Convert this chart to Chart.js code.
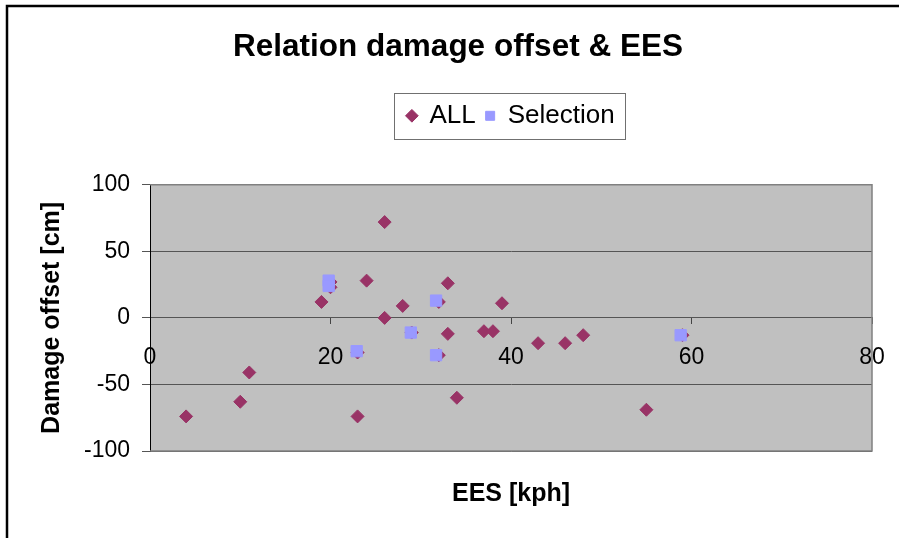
<!DOCTYPE html>
<html>
<head>
<meta charset="utf-8">
<title>Relation damage offset &amp; EES</title>
<script src="https://cdn.jsdelivr.net/npm/chart.js@4.4.0/dist/chart.umd.min.js"></script>
<style>
  html, body { margin: 0; padding: 0; background: #fff; }
  #wrap { width: 899px; height: 538px; }
</style>
</head>
<body>
<div id="wrap"><canvas id="damage-chart" width="899" height="538"></canvas></div>
<script>
// EES [kph] vs damage offset [cm], all cases
var allEes    = [4, 10, 11, 19, 20, 20, 23, 23, 24, 26, 26, 28, 29, 32, 32, 33, 33, 34, 37, 38, 39, 43, 46, 48, 55, 59];
var allOffset = [-74, -63, -41, 12, 27, 23, -26, -74, 28, 72, 0, 9, -11, 12, -28, 26, -12, -60, -10, -10, 11, -19, -19, -13, -69, -13];

// the selected subset
var selEes    = [19.8, 19.8, 22.9, 28.9, 31.7, 31.7, 58.8];
var selOffset = [28, 24, -25, -11, 13, -28, -13];

var xTicks = [0, 20, 40, 60, 80];
var yTicks = [-100, -50, 0, 50, 100];

var FONT = "'Liberation Sans', Arial, sans-serif";

function toPoints(xs, ys) {
    return xs.map(function (x, i) {
        return { x: x, y: ys[i] };
    });
}

// outer frame, grey plot area and the box round the legend
var chartDecor = {
    id: 'chartDecor',
    beforeDraw: function (chart) {
        var ctx = chart.ctx;
        var a = chart.chartArea;
        ctx.save();
        ctx.fillStyle = '#c0c0c0';
        ctx.fillRect(a.left, a.top, a.right - a.left, a.bottom - a.top);
        ctx.strokeStyle = '#000';
        ctx.lineWidth = 2.5;
        ctx.beginPath();
        ctx.moveTo(7, chart.height + 5);
        ctx.lineTo(7, 6);
        ctx.lineTo(chart.width + 5, 6);
        ctx.stroke();
        ctx.restore();
    },
    beforeDatasetsDraw: function (chart) {
        var ctx = chart.ctx;
        var a = chart.chartArea;
        ctx.save();
        ctx.strokeStyle = '#808080';
        ctx.lineWidth = 1.5;
        ctx.beginPath();
        ctx.moveTo(a.left, a.top);
        ctx.lineTo(a.right, a.top);
        ctx.lineTo(a.right, a.bottom);
        ctx.lineTo(a.left, a.bottom);
        ctx.stroke();
        ctx.restore();
    },
    afterDraw: function (chart) {
        var boxes = chart.legend && chart.legend.legendHitBoxes;
        if (!boxes || !boxes.length) return;
        var left = Math.min.apply(null, boxes.map(function (b) { return b.left; }));
        var right = Math.max.apply(null, boxes.map(function (b) { return b.left + b.width; }));
        var mid = boxes[0].top + boxes[0].height / 2;
        var ctx = chart.ctx;
        ctx.save();
        ctx.strokeStyle = '#707070';
        ctx.lineWidth = 1;
        ctx.strokeRect(Math.round(left - 13) + 0.5, Math.round(mid - 23) + 0.5, Math.round(right - left + 24), 46);
        ctx.restore();
    }
};

new Chart(document.getElementById('damage-chart'), {
    type: 'scatter',
    data: {
        datasets: [
            {
                label: 'ALL',
                data: toPoints(allEes, allOffset),
                pointStyle: 'rectRot',
                pointRadius: 6.5,
                backgroundColor: '#993366',
                borderColor: '#993366',
                borderWidth: 1,
                order: 1,
            },
            {
                label: 'Selection',
                data: toPoints(selEes, selOffset),
                pointStyle: 'rect',
                pointRadius: 8,
                backgroundColor: '#9999ff',
                borderColor: '#9999ff',
                borderWidth: 1,
                order: 0,
            },
        ],
    },
    options: {
        responsive: false,
        animation: false,
        devicePixelRatio: 1,
        layout: {
            padding: { left: 44, right: 27, top: 0, bottom: 0 },
        },
        plugins: {
            title: {
                display: true,
                text: 'Relation damage offset & EES',
                color: '#000',
                font: { family: FONT, size: 31.5, weight: 'bold' },
                padding: { top: 28, bottom: 27 },
            },
            legend: {
                display: true,
                position: 'top',
                fullSize: false,
                labels: {
                    usePointStyle: true,
                    boxWidth: 9,
                    boxHeight: 9,
                    padding: 10,
                    color: '#000',
                    font: { family: FONT, size: 26 },
                    // keep ALL first even though Selection is drawn on top
                    sort: function (a, b) {
                        return a.datasetIndex - b.datasetIndex;
                    },
                },
            },
            tooltip: { enabled: false },
        },
        scales: {
            x: {
                type: 'linear',
                position: { y: 0 },
                min: 0,
                max: 80,
                afterBuildTicks: function (scale) {
                    scale.ticks = xTicks.map(function (v) { return { value: v }; });
                },
                grid: {
                    drawOnChartArea: false,
                    drawTicks: true,
                    tickLength: 6,
                    color: '#444',
                },
                border: { color: '#555' },
                ticks: {
                    color: '#000',
                    padding: 8,
                    // tall line box pushes the labels down below the zero line
                    font: { family: FONT, size: 23, lineHeight: 2.25 },
                },
            },
            y: {
                type: 'linear',
                position: 'left',
                min: -100,
                max: 100,
                afterBuildTicks: function (scale) {
                    scale.ticks = yTicks.map(function (v) { return { value: v }; });
                },
                grid: {
                    color: '#555',
                    tickLength: 8,
                },
                border: { color: '#000' },
                ticks: {
                    color: '#000',
                    padding: 12,
                    font: { family: FONT, size: 23 },
                },
                title: {
                    display: true,
                    text: 'Damage offset [cm]',
                    color: '#000',
                    font: { family: FONT, size: 25, weight: 'bold', lineHeight: 0.5 },
                    padding: { top: 1.75, bottom: 0 },
                },
                afterFit: function (scale) {
                    scale.width = 106;
                },
            },
            // empty band between the legend and the plot
            xTop: {
                type: 'linear',
                position: 'top',
                ticks: { display: false },
                grid: { display: false },
                border: { display: false },
                afterFit: function (scale) {
                    scale.height = 46;
                },
            },
            // carries the x axis title under the plot
            xTitle: {
                type: 'linear',
                position: 'bottom',
                ticks: { display: false },
                grid: { display: false },
                border: { display: false },
                title: {
                    display: true,
                    text: 'EES [kph]',
                    color: '#000',
                    font: { family: FONT, size: 25, weight: 'bold' },
                    padding: { top: 0, bottom: 29 },
                },
                afterFit: function (scale) {
                    scale.height = 87;
                },
            },
        },
    },
    plugins: [chartDecor],
});
</script>
</body>
</html>
